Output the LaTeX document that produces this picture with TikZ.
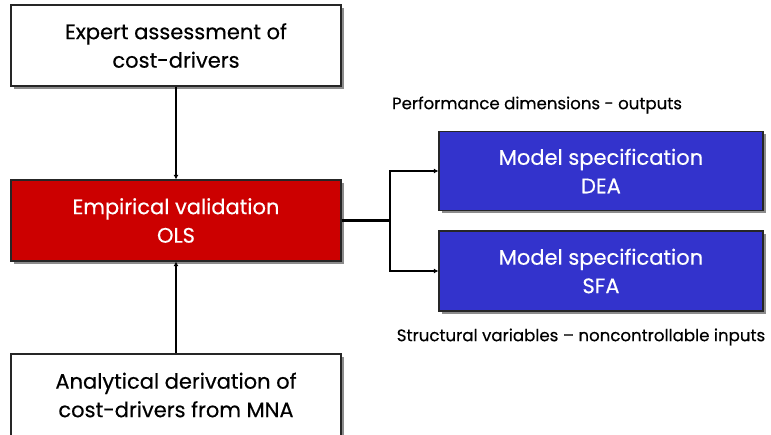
\documentclass[tikz,border=0pt]{standalone}
\usepackage{fontspec}
\setmainfont{Poppins}[FakeBold=0.4]
\usetikzlibrary{shadows,arrows.meta}
\definecolor{olsred}{HTML}{CC0000}
\definecolor{modelblue}{HTML}{3333CC}
\begin{document}
\begin{tikzpicture}[x=1pt,y=-1pt,
  box/.style={draw=black!85, line width=1.2pt, align=center, inner sep=0pt,
    minimum width=330pt, minimum height=81pt,
    font=\fontsize{21}{28.5}\selectfont,
    drop shadow={shadow xshift=2.5pt, shadow yshift=-2.5pt, fill=black!45, opacity=1}},
  whitebox/.style={box, fill=white, text=black},
  redbox/.style={box, fill=olsred, text=white},
  bluebox/.style={box, fill=modelblue, text=white, minimum width=324pt, minimum height=79pt},
  conn/.style={line width=2.6pt, -{Latex[length=4.5pt,width=5pt]}},
  note/.style={font=\fontsize{16.6}{18}\selectfont, inner sep=0pt}]
\useasboundingbox (0,0) rectangle (771,434);

\node[whitebox] (expert) at (176,45.5) {Expert assessment of\\cost-drivers};
\node[redbox] (ols) at (176,220.5) {Empirical validation\\OLS};
\node[whitebox, minimum height=82pt] (mna) at (176,395) {Analytical derivation of\\cost-drivers from MNA};
\node[bluebox] (dea) at (601,171) {Model specification\\DEA};
\node[bluebox, minimum height=80pt] (sfa) at (601,271) {Model specification\\SFA};

\node[note] (outputs) at (537,105) {Performance dimensions - outputs};
\node[note] (inputs) at (581,337) {Structural variables -- noncontrollable inputs};

\coordinate (split) at (390,220.5);
\draw[conn] (expert) -- (ols);
\draw[conn] (mna) -- (ols);
\draw[conn] (ols.east) -- (split) |- (dea.west);
\draw[conn] (split) |- (sfa.west);
\end{tikzpicture}
\end{document}
